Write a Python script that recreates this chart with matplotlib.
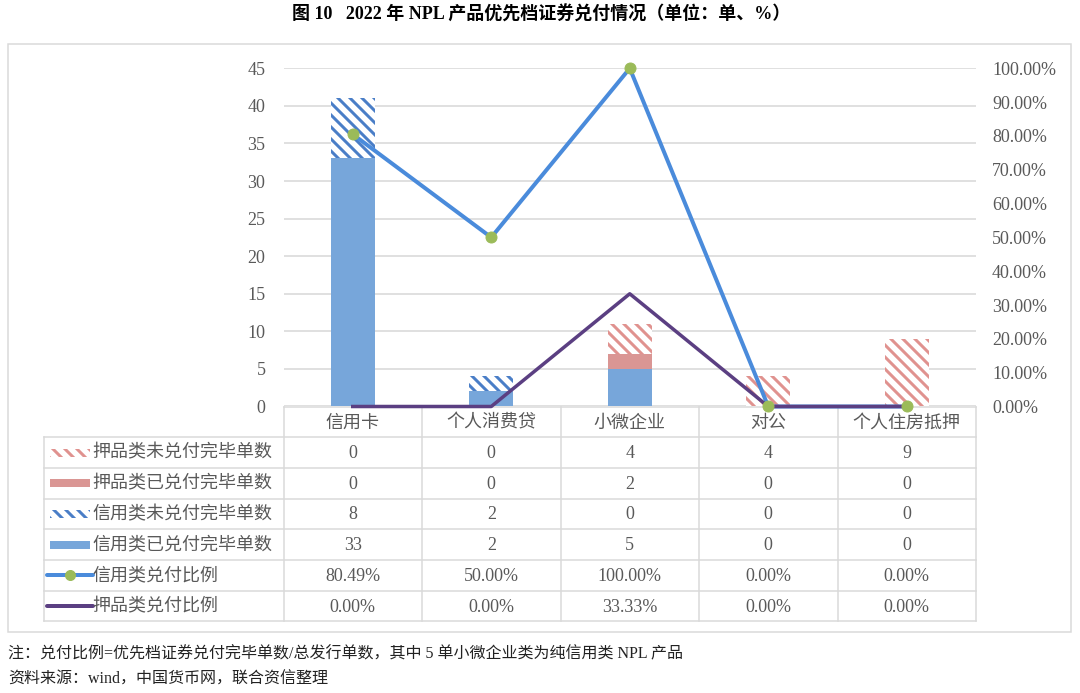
import numpy as np
import matplotlib
matplotlib.use("Agg")
import matplotlib.pyplot as plt
from matplotlib.patches import Rectangle
from matplotlib.ticker import FuncFormatter, MultipleLocator

# data
categories = ["信用卡", "个人消费贷", "小微企业", "对公", "个人住房抵押"]
col_unpaid = [0, 0, 4, 4, 9]      # 押品类未兑付完毕单数
col_paid = [0, 0, 2, 0, 0]        # 押品类已兑付完毕单数
cred_unpaid = [8, 2, 0, 0, 0]     # 信用类未兑付完毕单数
cred_paid = [33, 2, 5, 0, 0]      # 信用类已兑付完毕单数
cred_ratio = [80.49, 50.00, 100.00, 0.00, 0.00]   # 信用类兑付比例 %
col_ratio = [0.00, 0.00, 33.33, 0.00, 0.00]       # 押品类兑付比例 %

row_names = ["押品类未兑付完毕单数", "押品类已兑付完毕单数", "信用类未兑付完毕单数",
             "信用类已兑付完毕单数", "信用类兑付比例", "押品类兑付比例"]

title = "图 10   2022 年 NPL 产品优先档证券兑付情况（单位：单、%）"
note1 = "注：兑付比例=优先档证券兑付完毕单数/总发行单数，其中 5 单小微企业类为纯信用类 NPL 产品"
note2 = "资料来源：wind，中国货币网，联合资信整理"

# colours
c_blue_bar = "#77A6DA"
c_blue_hatch = "#4A7EC7"
c_pink_bar = "#DA9694"
c_pink_hatch = "#E0928F"
c_blue_line = "#4A8BDB"
c_green = "#9BBB59"
c_purple = "#5B3F82"
c_grid = "#D9D9D9"
c_text = "#595959"

plt.rcParams["font.family"] = ["Liberation Serif", "Noto Sans CJK SC"]
plt.rcParams["hatch.linewidth"] = 3.0
cjk = ["Noto Sans CJK SC", "DejaVu Sans"]

W, H = 1080, 693
DPI = 72
fig = plt.figure(figsize=(W / DPI, H / DPI), dpi=DPI)

# pixel geometry
px_left, px_right = 283.5, 976.0
px_top, px_zero = 68.3, 406.5
row_h = 30.7
tab_left = 43.5

# overlay in pixel coords for frame, table and notes
ov = fig.add_axes([0, 0, 1, 1], zorder=0)
ov.set_xlim(0, W)
ov.set_ylim(H, 0)
ov.axis("off")

ax = fig.add_axes([px_left / W, 1 - px_zero / H, (px_right - px_left) / W,
                   (px_zero - px_top) / H], zorder=1)
ax.patch.set_alpha(0)
x = np.arange(len(categories))
bw = 0.32

b0 = np.zeros(len(x))
ax.bar(x, cred_paid, bw, bottom=b0, color=c_blue_bar, lw=0, zorder=2)
b1 = b0 + np.array(cred_paid)
ax.bar(x, cred_unpaid, bw, bottom=b1, facecolor="white", edgecolor=c_blue_hatch,
       hatch="\\\\", lw=0, zorder=2)
b2 = b1 + np.array(cred_unpaid)
ax.bar(x, col_paid, bw, bottom=b2, color=c_pink_bar, lw=0, zorder=2)
b3 = b2 + np.array(col_paid)
ax.bar(x, col_unpaid, bw, bottom=b3, facecolor="white", edgecolor=c_pink_hatch,
       hatch="\\\\", lw=0, zorder=2)

ax.set_xlim(-0.5, len(categories) - 0.5)
ax.set_ylim(0, 45)
ax.yaxis.set_major_locator(MultipleLocator(5))
ax.grid(axis="y", color=c_grid, lw=1.6, zorder=0)
ax.set_axisbelow(True)
ax.set_xticks([])
ax.tick_params(axis="y", length=0, pad=18, labelsize=18, labelcolor=c_text)
for s in ax.spines.values():
    s.set_visible(False)

ax2 = ax.twinx()
ax2.set_ylim(0, 1)
ax2.yaxis.set_major_locator(MultipleLocator(0.1))
ax2.yaxis.set_major_formatter(FuncFormatter(lambda v, p: "%.2f%%" % (v * 100)))
ax2.tick_params(axis="y", length=0, pad=16, labelsize=18, labelcolor=c_text)
for s in ax2.spines.values():
    s.set_visible(False)
cr = np.array(cred_ratio) / 100
pr = np.array(col_ratio) / 100
ax2.plot(x, cr, color=c_blue_line, lw=4, zorder=3, clip_on=False)
ax2.plot(x, pr, color=c_purple, lw=3.5, zorder=4, clip_on=False)
ax2.plot(x, cr, ls="none", marker="o", ms=11, mfc=c_green, mec=c_green,
         zorder=5, clip_on=False)

# outer frame
ov.add_patch(Rectangle((8, 44), 1063, 588, fill=False, ec=c_grid, lw=1.5))

# table
ncol = len(categories)
cw = (px_right - px_left) / ncol
rows_top = px_zero + row_h
bottom = rows_top + row_h * len(row_names)
ov.plot([px_left, px_right], [px_zero, px_zero], color=c_grid, lw=1.5)
for i in range(ncol + 1):
    xx = px_left + i * cw
    ov.plot([xx, xx], [px_zero, bottom], color=c_grid, lw=1.5)
for j in range(len(row_names) + 1):
    yy = rows_top + j * row_h
    ov.plot([tab_left, px_right], [yy, yy], color=c_grid, lw=1.5)
ov.plot([tab_left, tab_left], [rows_top, bottom], color=c_grid, lw=1.5)

for i, c in enumerate(categories):
    ov.text(px_left + (i + 0.5) * cw, px_zero + row_h / 2 + 1, c, ha="center",
            va="center", fontsize=18, color=c_text, family=cjk)

table_vals = [
    [str(v) for v in col_unpaid],
    [str(v) for v in col_paid],
    [str(v) for v in cred_unpaid],
    [str(v) for v in cred_paid],
    ["%.2f%%" % v for v in cred_ratio],
    ["%.2f%%" % v for v in col_ratio],
]
for j, vals in enumerate(table_vals):
    yc = rows_top + (j + 0.5) * row_h
    for i, v in enumerate(vals):
        ov.text(px_left + (i + 0.5) * cw, yc + 1, v, ha="center", va="center",
                fontsize=18, color=c_text)
    ov.text(92, yc, row_names[j], ha="left", va="center", fontsize=18,
            color=c_text, family=cjk)

# legend keys in the table
kx0, kx1 = 50, 90
key_styles = [("hatch", c_pink_hatch), ("solid", c_pink_bar), ("hatch", c_blue_hatch),
              ("solid", c_blue_bar), ("marker", c_blue_line), ("line", c_purple)]
for j, (kind, col) in enumerate(key_styles):
    yc = rows_top + (j + 0.5) * row_h
    if kind == "hatch":
        ov.add_patch(Rectangle((kx0, yc - 4), kx1 - kx0, 8, facecolor="white",
                               edgecolor=col, hatch="\\\\", lw=0))
    elif kind == "solid":
        ov.add_patch(Rectangle((kx0, yc - 4), kx1 - kx0, 8, color=col, lw=0))
    elif kind == "marker":
        ov.plot([47, 93], [yc, yc], color=col, lw=4, solid_capstyle="round")
        ov.plot([70], [yc], marker="o", ms=10, color=c_green)
    else:
        ov.plot([47, 93], [yc, yc], color=col, lw=4, solid_capstyle="round")

# title and notes
ov.text(541, 15, title, ha="center", va="center", fontsize=18, weight="bold",
        color="black")
ov.text(8, 654, note1, ha="left", va="center", fontsize=16, color="#222222")
ov.text(8, 680, note2, ha="left", va="center", fontsize=16, color="#222222")

fig.savefig("out.png", dpi=DPI)
